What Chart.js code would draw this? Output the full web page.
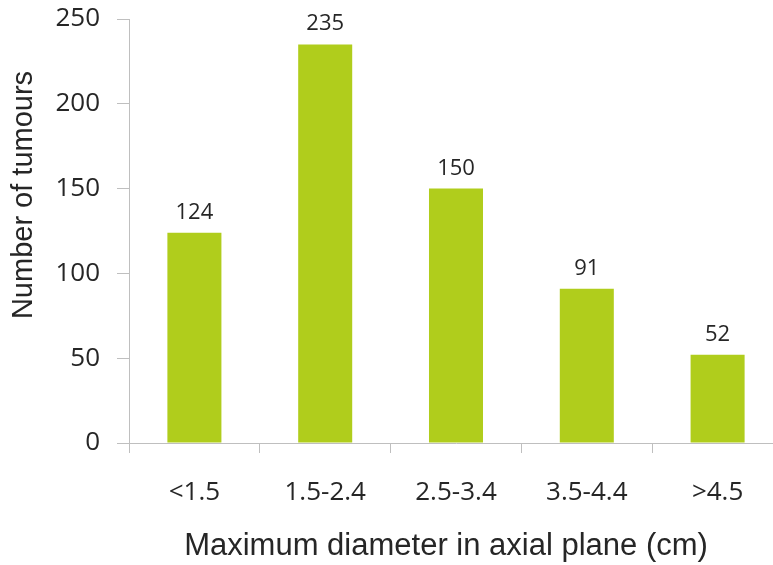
<!DOCTYPE html>
<html>
<head>
<meta charset="utf-8">
<script src="https://cdn.jsdelivr.net/npm/chart.js@4/dist/chart.umd.min.js"></script>
<style>
  html, body { margin: 0; padding: 0; background: #ffffff; overflow: hidden; }
  #wrap { position: relative; width: 784px; height: 565px; }
</style>
</head>
<body>
<div id="wrap"><canvas id="chart"></canvas></div>
<script>
// Tumour counts by maximum axial diameter
const categories = ['<1.5', '1.5-2.4', '2.5-3.4', '3.5-4.4', '>4.5'];
const tumourCounts = [124, 235, 150, 91, 52];
const yTicks = [0, 50, 100, 150, 200, 250];
const xTitle = 'Maximum diameter in axial plane (cm)';
const yTitle = 'Number of tumours';

const textColor = '#262626';
const axisColor = '#bfbfbf';
const barColor = '#b0cd1c';

// Value labels above each bar plus the two axis titles
const annotate = {
  id: 'annotate',
  afterDatasetsDraw(chart) {
    const ctx = chart.ctx;
    const area = chart.chartArea;
    const meta = chart.getDatasetMeta(0);
    ctx.save();
    ctx.fillStyle = textColor;
    ctx.font = '22px "Open Sans"';
    ctx.textAlign = 'center';
    ctx.textBaseline = 'alphabetic';
    meta.data.forEach((bar, i) => {
      ctx.fillText(String(tumourCounts[i]), bar.x, bar.y - 14);
    });

    ctx.font = '31px "Liberation Sans", Arial, sans-serif';
    ctx.textBaseline = 'alphabetic';
    ctx.fillText(xTitle, (area.left + area.right) / 2 - 10, area.bottom + 112);

    ctx.font = '29px "Liberation Sans", Arial, sans-serif';
    ctx.translate(area.left - 105, (area.top + area.bottom) / 2 - 36);
    ctx.rotate(-Math.PI / 2);
    ctx.textBaseline = 'middle';
    ctx.fillText(yTitle, 0, 0);
    ctx.restore();
  }
};

new Chart(document.getElementById('chart'), {
  type: 'bar',
  data: {
    labels: categories,
    datasets: [{
      data: tumourCounts,
      backgroundColor: barColor,
      borderWidth: 0,
      categoryPercentage: 1,
      barPercentage: 0.413
    }]
  },
  options: {
    responsive: true,
    maintainAspectRatio: false,
    animation: false,
    layout: { padding: { top: 19, right: 1, left: 0, bottom: 0 } },
    plugins: {
      legend: { display: false },
      tooltip: { enabled: false }
    },
    scales: {
      x: {
        offset: true,
        afterFit(scale) {
          scale.height = 122;
          scale.paddingLeft = 0;
          scale.paddingRight = 0;
        },
        grid: {
          offset: true,
          drawOnChartArea: false,
          drawTicks: true,
          tickLength: 10,
          color: axisColor,
          lineWidth: 1
        },
        border: { display: true, color: axisColor, width: 1 },
        ticks: {
          color: textColor,
          font: { family: '"Open Sans"', size: 26 },
          padding: 24,
          maxRotation: 0
        }
      },
      y: {
        min: 0,
        max: 250,
        afterFit(scale) {
          scale.width = 129;
          scale.paddingTop = 0;
          scale.paddingBottom = 0;
        },
        afterBuildTicks(scale) { scale.ticks = yTicks.map(v => ({ value: v })); },
        grid: {
          drawOnChartArea: false,
          drawTicks: true,
          tickLength: 12,
          color: axisColor,
          lineWidth: 1
        },
        border: { display: true, color: axisColor, width: 1 },
        ticks: {
          color: textColor,
          font: { family: '"Open Sans"', size: 26 },
          padding: 17
        }
      }
    }
  },
  plugins: [annotate]
});
</script>
</body>
</html>
